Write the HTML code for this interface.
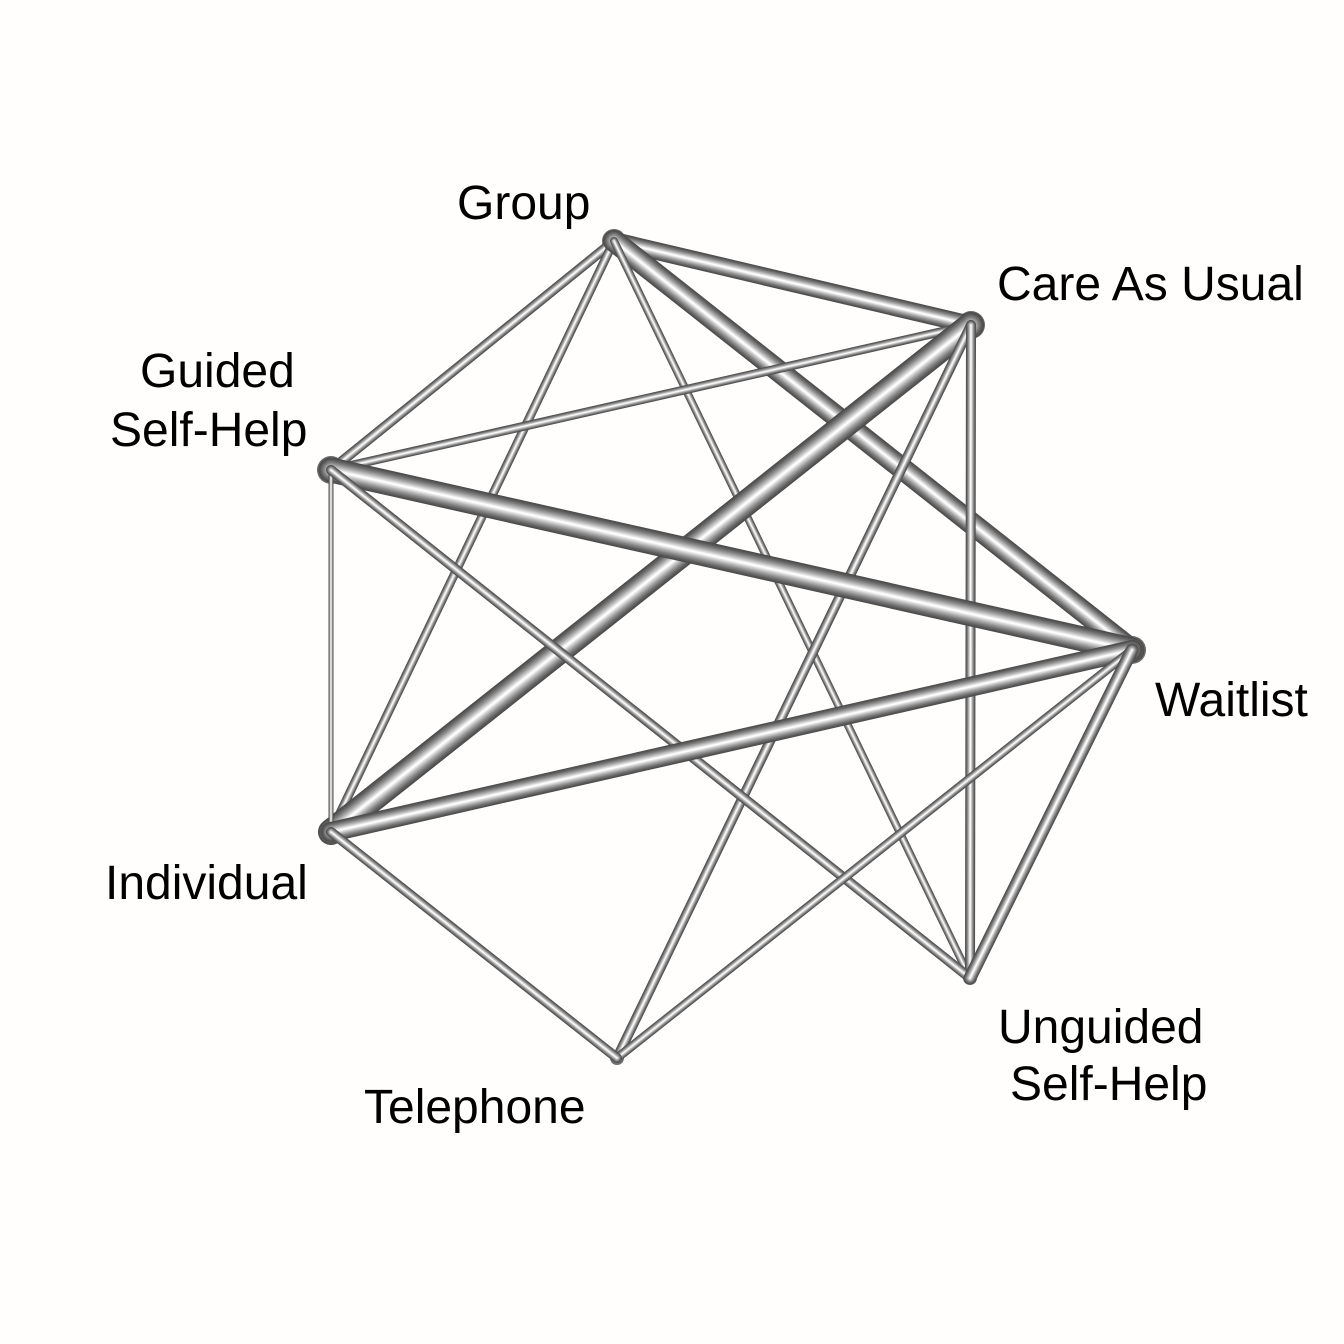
<!DOCTYPE html>
<html><head><meta charset="utf-8"><style>
html,body{margin:0;padding:0;background:#fffefc;}
svg{display:block}
text{font-family:"Liberation Sans",Arial,sans-serif;font-size:48px;fill:#000}
</style></head><body>
<svg id="s" width="1344" height="1344" viewBox="0 0 1344 1344" xmlns="http://www.w3.org/2000/svg">
<defs><radialGradient id="nd" cx="50%" cy="50%" r="50%"><stop offset="0" stop-color="#aaa"/><stop offset="1" stop-color="#666"/></radialGradient></defs>
<rect width="1344" height="1344" fill="#fffefc"/>
<g fill="url(#nd)">
<circle cx="614" cy="241" r="12"/>
<circle cx="971" cy="325" r="14"/>
<circle cx="331" cy="470" r="14"/>
<circle cx="1132" cy="650" r="14"/>
<circle cx="331" cy="832" r="12"/>
<circle cx="617" cy="1058" r="7"/>
<circle cx="970" cy="978" r="7"/>
</g>
<g id="edges"></g>
<text x="457" y="219">Group</text>
<text x="997" y="300">Care As Usual</text>
<text x="140" y="387">Guided</text>
<text x="110" y="446">Self-Help</text>
<text x="1155" y="716">Waitlist</text>
<text x="105" y="899">Individual</text>
<text x="364" y="1123">Telephone</text>
<text x="998" y="1043">Unguided</text>
<text x="1010" y="1100">Self-Help</text>
</svg>
<script>
var P={G:[614,241],C:[971,325],S:[331,470],W:[1132,650],I:[331,832],T:[617,1058],U:[970,978]};
var E=[["G","C",18],["G","S",10],["G","I",9],["G","W",22],["G","U",8],
["C","S",9],["C","I",26],["C","T",10],["C","U",10],
["S","W",25],["S","I",5],["S","U",10],
["W","I",20],["W","T",9],["W","U",13],["I","T",10]];
var g=document.getElementById("edges"),ns="http://www.w3.org/2000/svg";
var N=12;
E.forEach(function(e){var a=P[e[0]],b=P[e[1]],w=e[2];
for(var k=0;k<N;k++){var f=k/(N-1);var c=Math.round(0x4c+(0xfc-0x4c)*Math.pow(f,1.3));
var h=c.toString(16);var L=document.createElementNS(ns,"line");L.setAttribute("x1",a[0]);L.setAttribute("y1",a[1]);
L.setAttribute("x2",b[0]);L.setAttribute("y2",b[1]);L.setAttribute("stroke","#"+h+h+h);
L.setAttribute("stroke-width",Math.max(w*(1-k/N),0.6));L.setAttribute("stroke-linecap","round");g.appendChild(L);}});
</script>
</body></html>
